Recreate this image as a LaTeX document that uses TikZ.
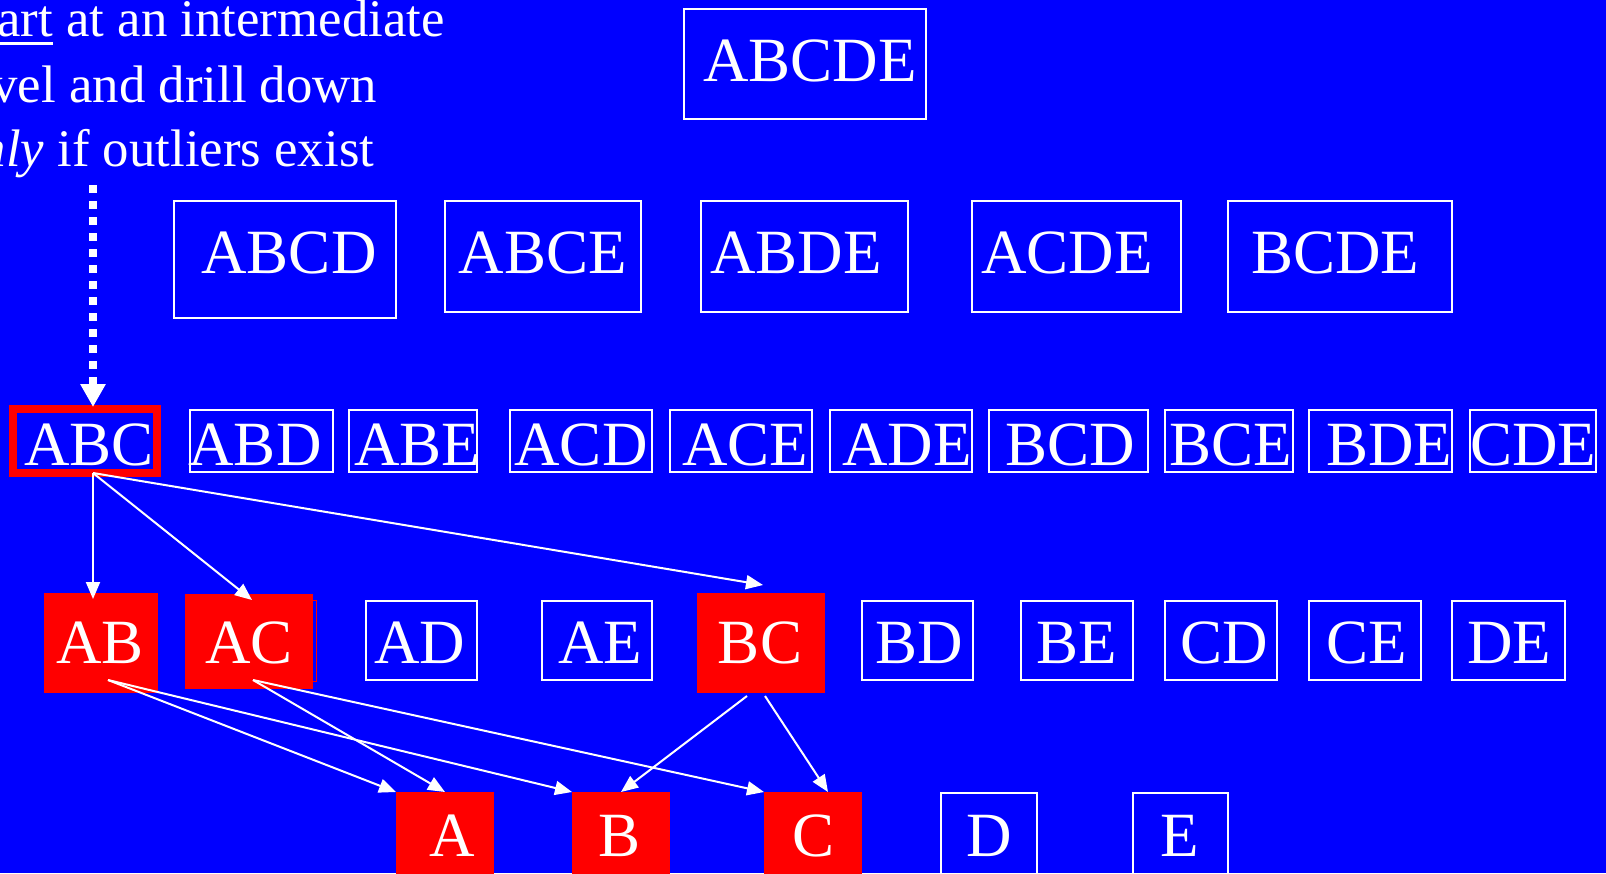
\documentclass[tikz,border=0pt]{standalone}
\usepackage{fontspec}
\setmainfont{Liberation Serif}
\usetikzlibrary{fit,arrows.meta}
\definecolor{bg}{RGB}{0,0,255}
\definecolor{rd}{RGB}{255,0,0}
\newcommand\myul[1]{\setbox0\hbox{#1}\rlap{\rule[-4.5pt]{\wd0}{1.5pt}}\box0\relax}
\newcommand\mkbox[9]{\node[#2,fit={(#3,#4)(#5,#6)}] (#1) {};\node[lbl] (#1t) at (#7,#8) {#9};}
\begin{document}
\begin{tikzpicture}[x=0.5pt,y=-0.5pt,
  wbox/.style={draw=white,line width=1pt,inner sep=0pt,outer sep=0pt},
  rbox/.style={fill=rd,draw=none,inner sep=0pt,outer sep=0pt},
  hbox/.style={draw=rd,line width=4pt,inner sep=0pt,outer sep=0pt},
  lbl/.style={text=white,inner sep=0pt,anchor=base,font=\fontsize{31.5}{36}\selectfont},
  note/.style={text=white,inner sep=0pt,anchor=base west,font=\fontsize{26.4}{32}\selectfont},
  arr/.style={draw=white,line width=1pt,-{Triangle[length=8.5pt,width=7pt]}},
  dotarr/.style={draw=white,line width=4pt,dash pattern=on 4pt off 4pt,-{Triangle[length=11.5pt,width=12pt]}},
]
\useasboundingbox (0,0) rectangle (1606,873);
\clip (0,0) rectangle (1606,873);
\fill[bg] (0,0) rectangle (1606,873);

% note text
\node[note] (n1) at (-47,36) {\myul{Start} at an intermediate};
\node[note] (n2) at (-47,102) {level and drill down};
\node[note] (n3) at (-47,166) {\textit{only} if outliers exist};

% row 1
\mkbox{abcde}{wbox}{684}{9}{926}{119}{810}{81}{ABCDE}

% row 2
\mkbox{abcd}{wbox}{174}{201}{396}{318}{289}{273}{ABCD}
\mkbox{abce}{wbox}{445}{201}{641}{312}{543}{273}{ABCE}
\mkbox{abde}{wbox}{701}{201}{908}{312}{796}{273}{ABDE}
\mkbox{acde}{wbox}{972}{201}{1181}{312}{1067}{273}{ACDE}
\mkbox{bcde}{wbox}{1228}{201}{1452}{312}{1335}{273}{BCDE}

% row 3
\mkbox{abc}{hbox}{13}{409}{157}{473}{89}{465}{ABC}
\mkbox{abd}{wbox}{190}{410}{333}{472}{255}{465}{ABD}
\mkbox{abe}{wbox}{349}{410}{477}{472}{417}{465}{ABE}
\mkbox{acd}{wbox}{510}{410}{652}{472}{581}{465}{ACD}
\mkbox{ace}{wbox}{670}{410}{812}{472}{745}{465}{ACE}
\mkbox{ade}{wbox}{830}{410}{972}{472}{907}{465}{ADE}
\mkbox{bcd}{wbox}{989}{410}{1148}{472}{1070}{465}{BCD}
\mkbox{bce}{wbox}{1165}{410}{1293}{472}{1231}{465}{BCE}
\mkbox{bde}{wbox}{1309}{410}{1452}{472}{1389}{465}{BDE}
\mkbox{cde}{wbox}{1470}{410}{1596}{472}{1533}{465}{CDE}

% row 4
\node[draw=rd,line width=0.5pt,inner sep=0pt,fit={(190,600)(316,681)}] (acshadow) {};
\mkbox{ab}{rbox}{44}{593}{158}{693}{100}{663}{AB}
\mkbox{ac}{rbox}{185}{594}{313}{689}{249}{663}{AC}
\mkbox{ad}{wbox}{366}{601}{477}{680}{420}{663}{AD}
\mkbox{ae}{wbox}{542}{601}{652}{680}{600}{663}{AE}
\mkbox{bc}{rbox}{697}{593}{825}{693}{760}{663}{BC}
\mkbox{bd}{wbox}{862}{601}{973}{680}{919}{663}{BD}
\mkbox{be}{wbox}{1021}{601}{1133}{680}{1077}{663}{BE}
\mkbox{cd}{wbox}{1165}{601}{1277}{680}{1224}{663}{CD}
\mkbox{ce}{wbox}{1309}{601}{1421}{680}{1367}{663}{CE}
\mkbox{de}{wbox}{1452}{601}{1565}{680}{1509}{663}{DE}

% row 5
\mkbox{a}{rbox}{396}{792}{494}{900}{452}{856}{A}
\mkbox{b}{rbox}{572}{792}{670}{900}{620}{856}{B}
\mkbox{c}{rbox}{764}{792}{862}{900}{813}{856}{C}
\mkbox{d}{wbox}{941}{793}{1037}{900}{989}{856}{D}
\mkbox{e}{wbox}{1133}{793}{1228}{900}{1180}{856}{E}

% dotted arrow
\coordinate (dstart) at (93,185);
\draw[dotarr] (dstart) -- ([xshift=4pt,yshift=1pt]abc.north);

% connectors
\draw[arr] ([xshift=4pt]abc.south) -- ([xshift=-4pt,yshift=-3pt]ab.north);
\draw[arr] ([xshift=4pt]abc.south) -- ([xshift=1.5pt,yshift=-3pt]ac.north);
\draw[arr] ([xshift=4pt]abc.south) -- ([xshift=1pt,yshift=4pt]bc.north);
\draw[arr] ([xshift=3.5pt,yshift=6.5pt]ab.south) -- (a.north west);
\draw[arr] ([xshift=3.5pt,yshift=6.5pt]ab.south) -- (b.north west);
\draw[arr] ([xshift=2pt,yshift=4.5pt]ac.south) -- (a.north);
\draw[arr] ([xshift=2pt,yshift=4.5pt]ac.south) -- (c.north west);
\draw[arr] ([xshift=-7pt,yshift=-1.5pt]bc.south) -- (b.north);
\draw[arr] ([xshift=2pt,yshift=-1.5pt]bc.south) -- ([xshift=7.5pt]c.north);
\end{tikzpicture}
\end{document}
